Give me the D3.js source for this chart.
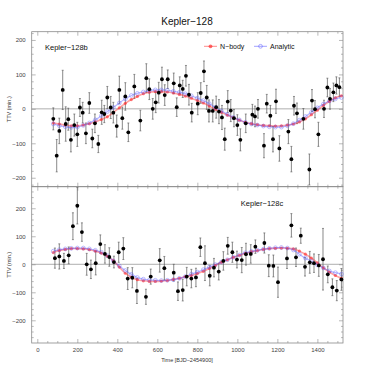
<!DOCTYPE html>
<html>
<head>
<meta charset="utf-8">
<script src="https://cdn.jsdelivr.net/npm/d3@7"></script>
<style>
  body { margin: 0; background: #fff; }
  text { font-family: "Liberation Sans", Arial, sans-serif; }
  .frame { fill: none; stroke: #8a8a8a; stroke-width: 0.8; }
  .tick line { stroke: #8a8a8a; stroke-width: 0.6; }
  .tick text { fill: #444; font-size: 6px; }
  .domain { display: none; }
</style>
</head>
<body>
<svg width="374" height="374"></svg>
<script>
// observed TTVs, Kepler-128b: time, TTV, error (min)
const bTime = [80, 97, 110, 127, 142, 155, 168, 185, 200, 213, 227, 243, 260, 275, 288, 305, 322, 335, 350, 367, 380, 397, 410, 425, 440, 455, 485, 515, 545, 560, 577, 592, 607, 623, 637, 652, 682, 697, 712, 727, 743, 758,
  772, 802, 817, 833, 847, 858, 877, 894, 908, 923, 937, 952, 967, 983, 1000, 1015, 1042, 1075, 1088, 1103, 1133, 1147, 1165, 1178, 1193, 1210, 1255, 1270, 1283, 1298, 1330, 1360, 1373, 1388, 1405, 1433, 1450, 1463, 1480, 1495, 1510];
const bTTV = [-29, -136, -64, 55, -44, -30, -90, -47, -74, 4, -11, -71, 17, -86, -42, -102, -10, -15, 33, 4, -11, -50, 55, -27, 36, -68, 65, -34, 89, 57, 0, 19, 47, 86, 40, 86, 74, 5, 68, 58, 96, 41,
  -11, 15, 46, 109, 33, -6, -6, 5, -8, -25, -88, 21, -5, -27, -47, -90, -42, -17, -22, 0, -107, 15, -20, -88, 22, -115, -66, -146, 9, -13, -29, -176, 24, -1, -74, 0, 62, 29, 48, 68, 63];
const bErr = [32, 47, 37, 57, 50, 32, 35, 32, 35, 26, 30, 30, 30, 27, 27, 25, 35, 25, 32, 32, 30, 32, 40, 32, 40, 27, 35, 30, 42, 30, 30, 30, 30, 35, 30, 27, 30, 27, 25, 25, 30, 30,
  27, 32, 30, 30, 35, 32, 32, 32, 35, 35, 32, 32, 32, 25, 30, 32, 27, 30, 30, 27, 35, 27, 30, 37, 35, 37, 35, 37, 27, 30, 30, 45, 32, 25, 35, 25, 27, 30, 27, 25, 27];

// observed TTVs, Kepler-128c
const cTime = [88, 110, 133, 157, 178, 200, 223, 247, 268, 292, 315, 338, 360, 383, 407, 430, 452, 475, 498, 543, 567, 612, 635, 682, 703, 727, 747, 770, 793, 815, 838, 862, 883, 907, 930, 952, 975, 998, 1022, 1043, 1067, 1090, 1135, 1157, 1180, 1203, 1248, 1270, 1293, 1317, 1338, 1362, 1383, 1407, 1428, 1452, 1475, 1497, 1520];
const cTTV = [22, 28, 12, 32, 136, 209, 115, 0, -18, 4, 72, 37, 26, 8, 43, 56, -51, -48, -95, -116, -44, 14, -14, -30, -96, -92, -44, -51, -47, 61, 4, -41, -12, -26, 12, 66, 43, 17, 15, 36, 37, 63, 76, -5, -6, -64, 21, 139, 25, 102, -9, 7, 4, -4, 18, -36, -82, -94, -54];
const cErr = [36, 45, 27, 30, 48, 65, 33, 39, 33, 42, 33, 33, 33, 21, 36, 39, 39, 36, 45, 27, 27, 42, 42, 30, 33, 39, 33, 33, 33, 33, 62, 36, 33, 30, 33, 30, 36, 30, 45, 39, 33, 24, 36, 39, 39, 54, 36, 42, 33, 27, 33, 39, 33, 39, 110, 30, 30, 36, 39];

// model curves, sampled every 30 days
const modelTime = [80, 110, 140, 170, 200, 230, 260, 290, 320, 350, 380, 410, 440, 470, 500, 530, 560, 590, 620, 650, 680, 710, 740, 770, 800, 830, 860, 890, 920, 950, 980, 1010, 1040, 1070, 1100, 1130, 1160, 1190, 1220, 1250, 1280, 1310, 1340, 1370, 1400, 1430, 1460, 1490, 1520];
const bNbody = [-41, -44, -47, -49, -49, -47, -43, -38, -31, -23, -11, 3, 16, 27, 36, 44, 48, 50, 50, 49, 46, 42, 37, 31, 24, 17, 8, -1, -10, -18, -26, -33, -39, -43, -46, -48, -49, -50, -49, -47, -44, -38, -29, -17, -4, 10, 22, 32, 38];
const bAnalytic = [-44, -49, -52, -54, -53, -48, -41, -32, -20, -8, 4, 17, 29, 39, 45, 49, 53, 55, 55, 54, 51, 48, 44, 38, 31, 24, 15, 4, -6, -16, -25, -32, -39, -44, -47, -50, -52, -53, -53, -49, -43, -33, -22, -10, 3, 14, 23, 29, 33];
const cNbody = [42, 49, 53, 56, 56, 55, 52, 47, 40, 29, 13, -10, -32, -46, -55, -59, -61, -61, -60, -58, -54, -50, -44, -40, -33, -25, -15, -4, 7, 16, 25, 32, 39, 45, 49, 53, 56, 57, 58, 57, 55, 47, 36, 22, 5, -13, -28, -40, -50];
const cAnalytic = [47, 52, 55, 57, 58, 58, 55, 50, 43, 31, 12, -6, -22, -36, -47, -53, -56, -57, -58, -57, -55, -50, -44, -35, -28, -19, -10, -1, 8, 16, 25, 33, 41, 46, 50, 54, 57, 59, 60, 58, 51, 36, 22, 11, -2, -13, -24, -30, -35];

const yTicks = [-200, -100, 0, 100, 200];
const xTicks = [0, 200, 400, 600, 800, 1000, 1200, 1400];

const svg = d3.select('svg');
const x = d3.scaleLinear().domain([-28, 1528]).range([31.7, 343]);

const panels = [
  { name: 'Kepler\u2212128b', t: bTime, v: bTTV, e: bErr, nb: bNbody, an: bAnalytic,
    y: d3.scaleLinear().domain([-226, 224]).range([186.7, 31.7]), labelX: 45, labelY: 50, legend: true },
  { name: 'Kepler\u2212128c', t: cTime, v: cTTV, e: cErr, nb: cNbody, an: cAnalytic,
    y: d3.scaleLinear().domain([-281, 277]).range([343, 186.7]), labelX: 262, labelY: 206, anchor: 'middle' }
];

const minus = d => d3.format('d')(d).replace('-', '\u2212');

panels.forEach((p, i) => {
  const y = p.y;
  const top = y.range()[1], bot = y.range()[0];
  const g = svg.append('g');

  // zero line
  g.append('line')
    .attr('x1', x.range()[0]).attr('x2', x.range()[1])
    .attr('y1', y(0)).attr('y2', y(0))
    .attr('stroke', '#8a8a8a').attr('stroke-width', 0.7);

  // ticks: major + minor on all four sides, pointing inward
  const xMinor = d3.range(0, 1501, 50).filter(d => d % 200 !== 0);
  const yMinor = d3.range(-260, 261, 20).filter(d => d % 100 !== 0 && d > y.domain()[0] && d < y.domain()[1]);

  g.append('g').attr('transform', `translate(0,${bot})`)
    .call(d3.axisBottom(x).tickValues(xTicks).tickSize(-4).tickPadding(5).tickFormat(i === 1 ? minus : ''));
  g.append('g').attr('transform', `translate(0,${bot})`)
    .call(d3.axisBottom(x).tickValues(xMinor).tickSize(-2).tickFormat(''));
  g.append('g').attr('transform', `translate(0,${top})`)
    .call(d3.axisTop(x).tickValues(xTicks).tickSize(-4).tickFormat(''));
  g.append('g').attr('transform', `translate(0,${top})`)
    .call(d3.axisTop(x).tickValues(xMinor).tickSize(-2).tickFormat(''));
  g.append('g').attr('transform', `translate(${x.range()[0]},0)`)
    .call(d3.axisLeft(y).tickValues(yTicks).tickSize(-4).tickPadding(6).tickFormat(minus));
  g.append('g').attr('transform', `translate(${x.range()[0]},0)`)
    .call(d3.axisLeft(y).tickValues(yMinor).tickSize(-2).tickFormat(''));
  g.append('g').attr('transform', `translate(${x.range()[1]},0)`)
    .call(d3.axisRight(y).tickValues(yTicks).tickSize(-4).tickFormat(''));
  g.append('g').attr('transform', `translate(${x.range()[1]},0)`)
    .call(d3.axisRight(y).tickValues(yMinor).tickSize(-2).tickFormat(''));

  g.append('rect').attr('class', 'frame')
    .attr('x', x.range()[0]).attr('y', top)
    .attr('width', x.range()[1] - x.range()[0]).attr('height', bot - top);

  // error bars
  const obs = p.t.map((t, k) => ({ t, v: p.v[k], e: p.e[k] }));
  g.selectAll('.eb').data(obs).enter().append('line')
    .attr('x1', d => x(d.t)).attr('x2', d => x(d.t))
    .attr('y1', d => y(d.v - d.e)).attr('y2', d => y(d.v + d.e))
    .attr('stroke', '#555').attr('stroke-width', 0.7);
  [-1, 1].forEach(s => {
    g.selectAll('.cap').data(obs).enter().append('line')
      .attr('x1', d => x(d.t) - 1).attr('x2', d => x(d.t) + 1)
      .attr('y1', d => y(d.v + s * d.e)).attr('y2', d => y(d.v + s * d.e))
      .attr('stroke', '#555').attr('stroke-width', 0.6);
  });

  // models
  const line = d3.line().x((d, k) => x(modelTime[k])).y(d => y(d)).curve(d3.curveCatmullRom);
  g.append('path').datum(p.nb).attr('d', line)
    .attr('fill', 'none').attr('stroke', '#ff3030').attr('stroke-width', 1.6).attr('opacity', 0.45);
  g.selectAll('.nb').data(p.nb).enter().append('circle')
    .attr('cx', (d, k) => x(modelTime[k])).attr('cy', d => y(d)).attr('r', 1.6)
    .attr('fill', '#ff2a2a').attr('opacity', 0.6);
  g.append('path').datum(p.an).attr('d', line)
    .attr('fill', 'none').attr('stroke', '#4a4aff').attr('stroke-width', 1.2).attr('opacity', 0.4);
  g.selectAll('.an').data(p.an).enter().append('circle')
    .attr('cx', (d, k) => x(modelTime[k])).attr('cy', d => y(d)).attr('r', 1.9)
    .attr('fill', 'none').attr('stroke', '#5a5aff').attr('stroke-width', 0.7).attr('opacity', 0.55);

  // observed points
  g.selectAll('.pt').data(obs).enter().append('circle')
    .attr('cx', d => x(d.t)).attr('cy', d => y(d.v)).attr('r', 1.9)
    .attr('fill', '#000');

  g.append('text').attr('x', p.labelX).attr('y', p.labelY)
    .attr('text-anchor', p.anchor || 'start')
    .attr('font-size', 7.5).attr('fill', '#111').text(p.name);

  svg.append('text')
    .attr('transform', `translate(11,${(top + bot) / 2}) rotate(-90)`)
    .attr('text-anchor', 'middle').attr('font-size', 5.5).attr('fill', '#333')
    .text('TTV (min.)');

  if (p.legend) {
    const items = [
      { label: 'N\u2212body', c: '#ff3030', fill: true, x0: 204 },
      { label: 'Analytic', c: '#5a5aff', fill: false, x0: 254 }
    ];
    items.forEach(it => {
      g.append('line').attr('x1', it.x0).attr('x2', it.x0 + 13)
        .attr('y1', 46.3).attr('y2', 46.3).attr('stroke', it.c).attr('stroke-width', 0.8).attr('opacity', 0.7);
      g.append('circle').attr('cx', it.x0 + 6.5).attr('cy', 46.3).attr('r', 1.9)
        .attr('fill', it.fill ? it.c : 'none').attr('stroke', it.fill ? 'none' : it.c)
        .attr('stroke-width', 0.7).attr('opacity', 0.7);
      g.append('text').attr('x', it.x0 + 16).attr('y', 48.8)
        .attr('font-size', 7).attr('fill', '#111').text(it.label);
    });
  }
});

svg.append('text').attr('x', 187).attr('y', 25)
  .attr('text-anchor', 'middle').attr('font-size', 10).attr('fill', '#111')
  .text('Kepler\u2212128');

svg.append('text').attr('x', 187).attr('y', 362)
  .attr('text-anchor', 'middle').attr('font-size', 5.5).attr('fill', '#333')
  .text('Time [BJD\u22122454900]');
</script>
</body>
</html>
